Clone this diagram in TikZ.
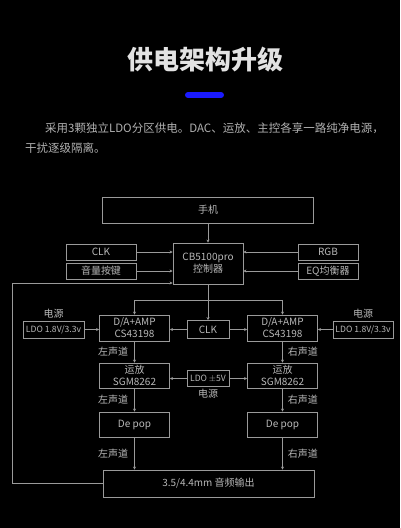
\documentclass[tikz,border=0pt]{standalone}
\usepackage{fontspec}
\setmainfont{Noto Sans CJK SC}
\usepackage{tikz}
\usetikzlibrary{positioning,arrows.meta}
\usepackage{xcolor}
\definecolor{linegray}{HTML}{9A9A9A}
\definecolor{txtgray}{HTML}{B8B8B8}
\definecolor{titlegray}{HTML}{E2E2E2}
\definecolor{barblue}{HTML}{1A1AFF}

\begin{document}
\begin{tikzpicture}[x=1pt,y=-1pt,
  box/.style={draw=linegray, line width=0.9pt, inner sep=0pt, text=txtgray,
    font=\fontsize{10}{12}\selectfont, align=center},
  ldobox/.style={box, font=\fontsize{8.6}{10}\selectfont},
  lbl/.style={text=txtgray, font=\fontsize{10}{12}\selectfont, inner sep=0pt},
  arr/.style={draw=linegray, line width=0.8pt, -{Stealth[length=3pt,width=3pt]}}]
  \fill[black] (0,0) rectangle (400,528);
  % heading and intro text
  \node[text=titlegray, font=\fontsize{26}{30}\selectfont\bfseries] (title) at (205,60) {供电架构升级};
  \draw[barblue, line width=6pt, line cap=round] (188,95) -- (221,95);
  \node[text=txtgray!110, font=\fontsize{11.5}{14}\selectfont, anchor=west, inner sep=0pt] (intro1) at (45,128)
    {采用3颗独立LDO分区供电。DAC、运放、主控各享一路纯净电源，};
  \node[text=txtgray!110, font=\fontsize{11.5}{14}\selectfont, anchor=west, inner sep=0pt] (intro2) at (25,148)
    {干扰逐级隔离。};
  % top part
  \node[box, minimum width=211pt, minimum height=26pt] (phone) at (208,210) {手机};
  \node[box, minimum width=70pt, minimum height=41pt] (ctrl) at (208,263.5) {CB5100pro\\控制器};
  \node[box, minimum width=70pt, minimum height=16pt] (clkL) at (101,252) {CLK};
  \node[box, minimum width=70pt, minimum height=16pt] (vol) at (101,271) {音量按键};
  \node[box, minimum width=60pt, minimum height=16pt] (rgb) at (328,252) {RGB};
  \node[box, minimum width=60pt, minimum height=16pt] (eq) at (328,271) {EQ均衡器};
  % DAC stage
  \node[box, minimum width=70pt, minimum height=26pt] (daL) at (134.5,328) {D/A+AMP\\CS43198};
  \node[box, minimum width=70pt, minimum height=26pt] (daR) at (282.5,328) {D/A+AMP\\CS43198};
  \node[box, minimum width=42pt, minimum height=18pt] (clkM) at (208,329.5) {CLK};
  \node[ldobox, minimum width=61pt, minimum height=17pt] (ldoL) at (53.5,329.5) {LDO 1.8V/3.3v};
  \node[ldobox, minimum width=60pt, minimum height=17pt] (ldoR) at (363,329.5) {LDO 1.8V/3.3v};
  \node[lbl, above=2.5pt of ldoL] (pwrL) {电源};
  \node[lbl, above=2.5pt of ldoR] (pwrR) {电源};
  % op amp stage
  \node[box, minimum width=70pt, minimum height=25pt] (opL) at (134.5,375.5) {运放\\SGM8262};
  \node[box, minimum width=70pt, minimum height=25pt] (opR) at (282.5,375.5) {运放\\SGM8262};
  \node[ldobox, minimum width=42pt, minimum height=16pt] (ldo5) at (208,378.5) {LDO $\pm$5V};
  \node[lbl, below=1.5pt of ldo5] (pwrM) {电源};
  % de pop and output
  \node[box, minimum width=70pt, minimum height=25pt] (dpL) at (134.5,424.5) {De pop};
  \node[box, minimum width=70pt, minimum height=25pt] (dpR) at (282.5,424.5) {De pop};
  \node[box, minimum width=211pt, minimum height=27pt] (out) at (208.5,483.5) {3.5/4.4mm 音频输出};

  % connectors
  \draw[arr] (phone) -- (ctrl);
  \draw[arr] (clkL) -- (clkL -| ctrl.west);
  \draw[arr] (vol) -- (vol -| ctrl.west);
  \draw[arr] (rgb) -- (rgb -| ctrl.east);
  \draw[arr] (eq) -- (eq -| ctrl.east);
  \coordinate (split) at (208,300);
  \draw[linegray, line width=0.8pt] (ctrl.south) -- (split);
  \draw[arr] (split) -- (clkM.north);
  \draw[arr] (split) -| (daL.north);
  \draw[arr] (split) -| (daR.north);
  \draw[arr] (clkM) -- (clkM -| daL.east);
  \draw[arr] (clkM) -- (clkM -| daR.west);
  \draw[arr] (ldoL) -- (ldoL -| daL.west);
  \draw[arr] (ldoR) -- (ldoR -| daR.east);
  \draw[arr] (daL) -- (opL) node[lbl, midway, left=6pt] {左声道};
  \draw[arr] (daR) -- (opR) node[lbl, midway, right=5pt] {右声道};
  \draw[arr] (ldo5) -- (ldo5 -| opL.east);
  \draw[arr] (ldo5) -- (ldo5 -| opR.west);
  \draw[arr] (opL) -- (dpL) node[lbl, midway, left=6pt] {左声道};
  \draw[arr] (opR) -- (dpR) node[lbl, midway, right=5pt] {右声道};
  \draw[arr] (dpL) -- (dpL |- out.north) node[lbl, midway, left=6pt] {左声道};
  \draw[arr] (dpR) -- (dpR |- out.north) node[lbl, midway, right=5pt] {右声道};
  % feedback line round the left side
  \coordinate (loop) at (12,283);
  \draw[arr] (out.west) -| (loop) -- (loop -| ctrl.west);
\end{tikzpicture}
\end{document}
